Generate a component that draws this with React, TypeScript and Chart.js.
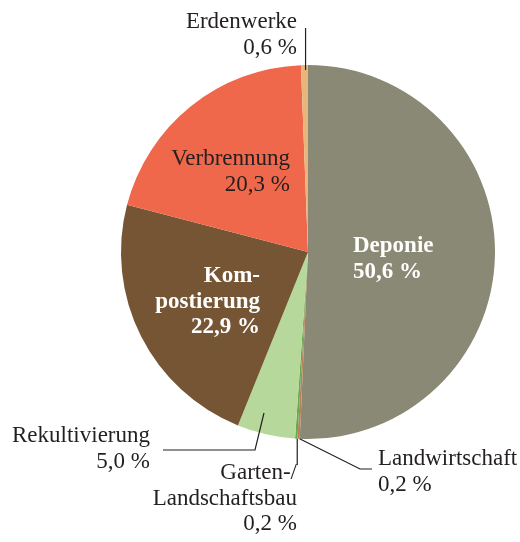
import React, { useEffect, useRef } from "react";
import { Chart, registerables } from "chart.js";

Chart.register(...registerables);

const categories = [
  "Deponie",
  "Landwirtschaft",
  "Garten-/Landschaftsbau",
  "Rekultivierung",
  "Kompostierung",
  "Verbrennung",
  "Erdenwerke",
];
const values = [50.6, 0.2, 0.2, 5.0, 22.9, 20.3, 0.6];
const labelLines = [
  ["Deponie"],
  ["Landwirtschaft"],
  ["Garten-/", "Landschaftsbau"],
  ["Rekultivierung"],
  ["Kom-", "postierung"],
  ["Verbrennung"],
  ["Erdenwerke"],
];
const colors = ["#8a8975", "#b9805c", "#68a84c", "#b6d99b", "#765535", "#f0684b", "#e8b67a"];

const fmt = (v: number) => v.toFixed(1).replace(".", ",") + " %";

// label layout relative to pie centre (px)
type Lay = {
  x: number;
  y: number;
  align: CanvasTextAlign;
  bold: boolean;
  white: boolean;
  leader?: (s: { x: number; y: number }, cx: number, cy: number) => { x: number; y: number }[];
  start?: "edge" | "edgeIn" | "fixed";
  fixed?: [number, number];
};
const layout: Lay[] = [
  { x: 45, y: 0, align: "left", bold: true, white: true },
  {
    x: 70, y: 213, align: "left", bold: false, white: false, start: "edge",
    leader: (s, cx, cy) => [s, { x: cx + 52, y: cy + 217 }, { x: cx + 64, y: cy + 217 }],
  },
  {
    x: -11, y: 227, align: "right", bold: false, white: false, start: "edge",
    leader: (s, cx, cy) => [s, { x: s.x, y: cy + 213 }],
  },
  {
    x: -158, y: 190, align: "right", bold: false, white: false, start: "fixed", fixed: [-44, 161],
    leader: (s, cx, cy) => [s, { x: cx - 53, y: cy + 198 }, { x: cx - 145, y: cy + 198 }],
  },
  { x: -48, y: 30, align: "right", bold: true, white: true },
  { x: -18, y: -87, align: "right", bold: false, white: false },
  {
    x: -11, y: -224, align: "right", bold: false, white: false, start: "edgeIn",
    leader: (s, cx, cy) => [s, { x: s.x, y: cy - 224 }],
  },
];

const labelPlugin = {
  id: "pieLabels",
  afterDraw(chart: any) {
    const ctx = chart.ctx as CanvasRenderingContext2D;
    const meta = chart.getDatasetMeta(0);
    ctx.save();
    meta.data.forEach((arc: any, i: number) => {
      const L = layout[i];
      const cx = arc.x;
      const cy = arc.y;
      const r = arc.outerRadius;
      const mid = (arc.startAngle + arc.endAngle) / 2;
      if (L.leader) {
        let s;
        if (L.start === "fixed" && L.fixed) s = { x: cx + L.fixed[0], y: cy + L.fixed[1] };
        else {
          const rr = L.start === "edgeIn" ? r - 5 : r;
          s = { x: cx + Math.cos(mid) * rr + 1, y: cy + Math.sin(mid) * rr };
        }
        const pts = L.leader(s, cx, cy);
        ctx.beginPath();
        ctx.strokeStyle = "#231f20";
        ctx.lineWidth = 1.2;
        pts.forEach((p, k) => (k === 0 ? ctx.moveTo(p.x, p.y) : ctx.lineTo(p.x, p.y)));
        ctx.stroke();
      }
      const lines = [...labelLines[i], fmt(values[i])];
      ctx.font = `${L.bold ? "bold " : ""}23px "Liberation Serif", serif`;
      ctx.fillStyle = L.white ? "#ffffff" : "#231f20";
      ctx.textAlign = L.align;
      ctx.textBaseline = "alphabetic";
      lines.forEach((t, k) => ctx.fillText(t, cx + L.x, cy + L.y + k * 25.7));
    });
    ctx.restore();
  },
};

export default function App() {
  const ref = useRef<HTMLCanvasElement | null>(null);
  useEffect(() => {
    if (!ref.current) return;
    const chart = new Chart(ref.current, {
      type: "pie",
      data: {
        labels: categories,
        datasets: [{ data: values, backgroundColor: colors, borderWidth: 0 }],
      },
      options: {
        responsive: false,
        animation: false,
        layout: { padding: { left: 121, right: 25, top: 65, bottom: 103 } },
        plugins: { legend: { display: false }, tooltip: { enabled: false } },
      },
      plugins: [labelPlugin],
    });
    return () => chart.destroy();
  }, []);
  return (
    <div style={{ position: "fixed", left: 0, top: 0, width: 520, height: 542, background: "#fff" }}>
      <canvas ref={ref} width={520} height={542} />
    </div>
  );
}
